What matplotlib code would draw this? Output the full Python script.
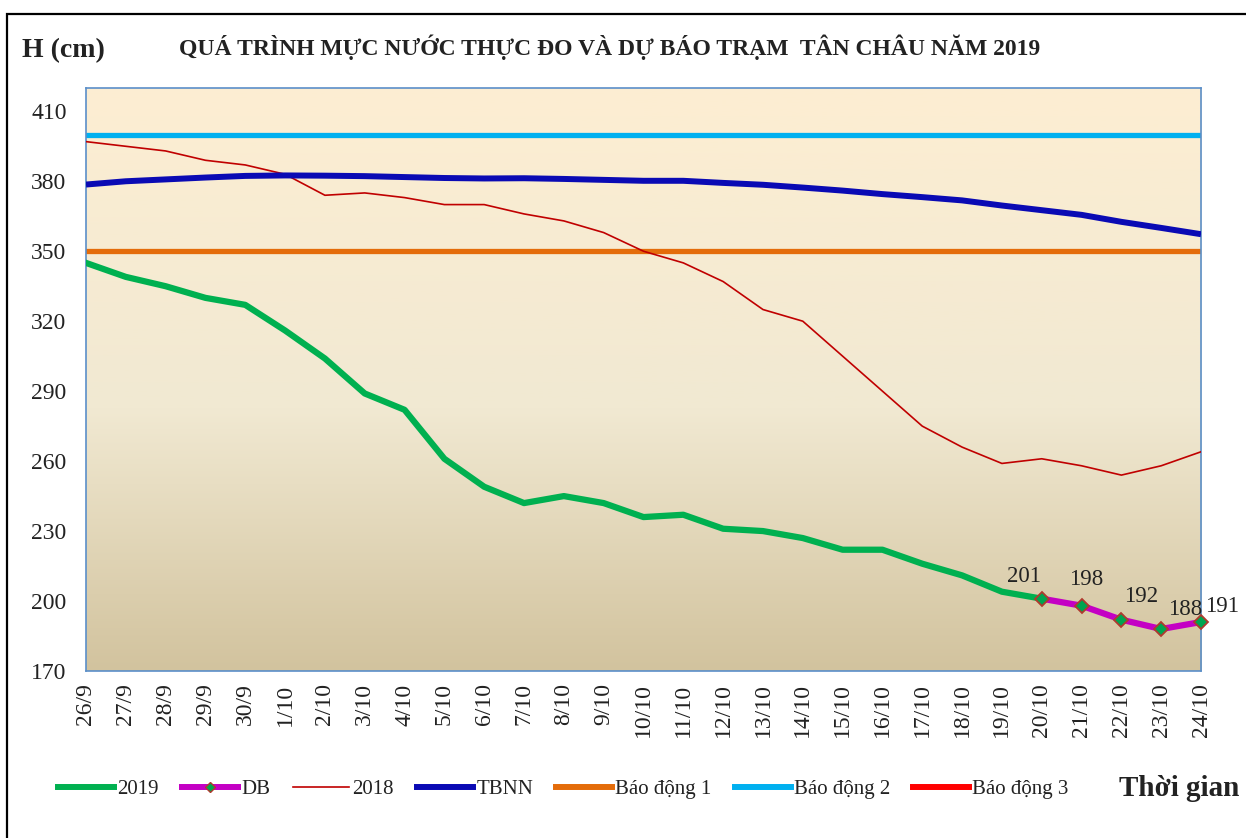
import matplotlib
matplotlib.use("Agg")
import matplotlib.pyplot as plt
import numpy as np
from matplotlib.colors import LinearSegmentedColormap
from matplotlib.lines import Line2D
from matplotlib.patches import Rectangle

plt.rcParams['font.family'] = ['Liberation Serif', 'DejaVu Serif']

days = ['26/9', '27/9', '28/9', '29/9', '30/9', '1/10', '2/10', '3/10', '4/10',
        '5/10', '6/10', '7/10', '8/10', '9/10', '10/10', '11/10', '12/10', '13/10',
        '14/10', '15/10', '16/10', '17/10', '18/10', '19/10', '20/10', '21/10',
        '22/10', '23/10', '24/10']

h2019 = [345, 339, 335, 330, 327, 316, 304, 289, 282, 261, 249, 242, 245, 242,
         236, 237, 231, 230, 227, 222, 222, 216, 211, 204, 201]
db = [201, 198, 192, 188, 191]
h2018 = [397, 395, 393, 389, 387, 383, 374, 375, 373, 370, 370, 366, 363, 358,
         350, 345, 337, 325, 320, 305, 290, 275, 266, 259, 261, 258, 254, 258, 264]
tbnn = [378.6, 380, 380.8, 381.6, 382.3, 382.5, 382.4, 382.2, 381.8, 381.4, 381.2,
        381.3, 381.0, 380.6, 380.2, 380.2, 379.3, 378.5, 377.3, 376, 374.5, 373.2,
        371.8, 369.6, 367.6, 365.6, 362.6, 360, 357.3]
bd1 = 350
bd2 = 400
bd3 = 450

x = np.arange(len(days))
x2019 = x[:len(h2019)]
xdb = x[len(h2019) - 1:]

fig = plt.figure(figsize=(12.46, 8.38), dpi=100)
ax = fig.add_axes([0.069, 0.1993, 0.8949, 0.6957])

# gradient background
cmap = LinearSegmentedColormap.from_list('bg', [(0, '#D2C39E'), (0.45, '#F1E9D2'), (1, '#FDEED2')])
grad = np.linspace(0, 1, 256).reshape(-1, 1)
ax.imshow(grad, cmap=cmap, origin='lower', aspect='auto', extent=[0, 1, 0, 1],
          transform=ax.transAxes, zorder=0)

ax.plot(x, h2018, color='#C00000', lw=1.2, zorder=3)
ax.axhline(bd1, color='#E46C0A', lw=3.8, zorder=2)
ax.axhline(bd2, color='#00B0F0', lw=3.8, zorder=2)
ax.axhline(bd3, color='#FF0000', lw=3.8, zorder=2)
ax.plot(x, tbnn, color='#0A0AB4', lw=4.3, zorder=4, solid_capstyle='butt')
ax.plot(x2019, h2019, color='#00B050', lw=4.5, zorder=5, solid_joinstyle='round')
ax.plot(xdb, db, color='#C400C4', lw=4.5, zorder=6, marker='D', ms=7,
        mfc='#00A550', mec='#B03A2E', mew=1.3, clip_on=False)

offsets = [(-13, 16), (3, 19), (14, 17), (17, 14), (15, 11)]
for xi, v, off in zip(xdb, db, offsets):
    ax.annotate(str(v), (xi, v), xytext=off, textcoords='offset points',
                ha='center', va='center', fontsize=16.5, color='#222222', zorder=7,
                annotation_clip=False)

ax.set_xlim(0, len(days) - 1)
ax.set_ylim(170, 420)
ax.set_yticks(np.arange(170, 411, 30))
ax.set_xticks(x)
ax.set_xticklabels(days, rotation=90)
ax.tick_params(axis='y', length=0, pad=14, labelsize=17, labelcolor='#222222')
ax.tick_params(axis='x', length=0, pad=9, labelsize=17, labelcolor='#222222')
for s in ax.spines.values():
    s.set_color('#5B8FC9')
    s.set_linewidth(1.2)

fig.text(0.018, 0.94, 'H (cm)', fontsize=20, fontweight='bold', color='#222222', va='center')
fig.text(0.4896, 0.944, 'QUÁ TRÌNH MỰC NƯỚC THỰC ĐO VÀ DỰ BÁO TRẠM  TÂN CHÂU NĂM 2019',
         fontsize=17, fontweight='bold', color='#222222', ha='center', va='center')
fig.text(0.995, 0.059, 'Thời gian', fontsize=21, fontweight='bold', color='#222222',
         ha='right', va='center')

handles = [
    Line2D([], [], color='#00B050', lw=4.3),
    Line2D([], [], color='#C400C4', lw=4.3, marker='D', ms=5, mfc='#00A550', mec='#B03A2E'),
    Line2D([], [], color='#C00000', lw=1.2),
    Line2D([], [], color='#0A0AB4', lw=4.3),
    Line2D([], [], color='#E46C0A', lw=4.3),
    Line2D([], [], color='#00B0F0', lw=4.3),
    Line2D([], [], color='#FF0000', lw=4.3),
]
labels = ['2019', 'DB', '2018', 'TBNN', 'Báo động 1', 'Báo động 2', 'Báo động 3']
fig.legend(handles, labels, loc='center left', bbox_to_anchor=(0.0465, 0.058), ncol=7,
           frameon=False, fontsize=15, handlelength=2.7, handletextpad=0.15,
           columnspacing=1.1, borderpad=0, borderaxespad=0, labelcolor='#222222')

# outer frame
fig.patches.append(Rectangle((0.0056, -0.05), 1.2, 1.0333, transform=fig.transFigure,
                             fill=False, edgecolor='black', lw=1.6))

fig.savefig('out.png', dpi=100)
